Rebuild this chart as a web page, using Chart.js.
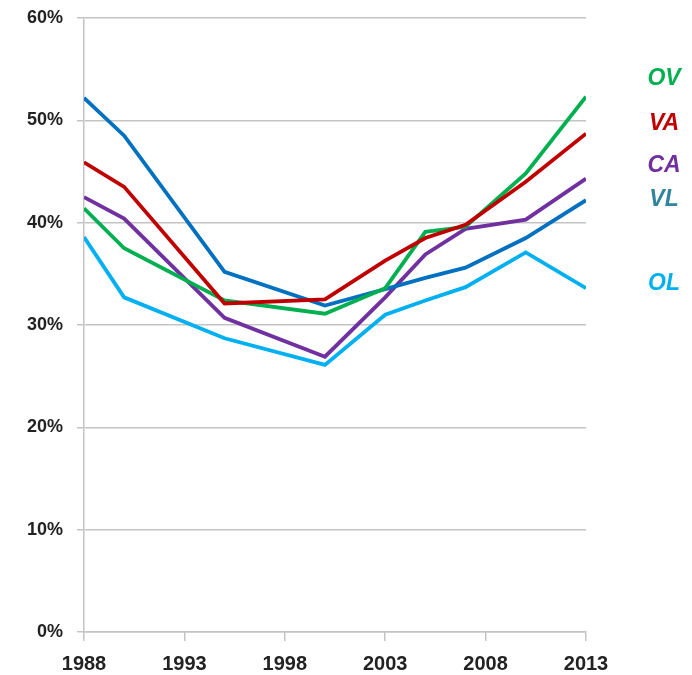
<!DOCTYPE html>
<html>
<head>
<meta charset="utf-8">
<script src="https://cdn.jsdelivr.net/npm/chart.js@4.4.1/dist/chart.umd.min.js"></script>
<style>
  html, body { margin: 0; padding: 0; background: #fff; }
  #wrap { width: 692px; height: 675px; }
</style>
</head>
<body>
<div id="wrap"><canvas id="lineChart"></canvas></div>
<script>
// years with a data point, and the labelled ticks on the x axis
const years = [1988, 1990, 1995, 2000, 2003, 2005, 2007, 2010, 2013];
const xTicks = [1988, 1993, 1998, 2003, 2008, 2013];
const yTicks = [0, 10, 20, 30, 40, 50, 60];

// shares in percent
const vaValues = [45.9, 43.5, 32.1, 32.5, 36.3, 38.5, 39.8, 44.0, 48.7];
const ovValues = [41.4, 37.5, 32.4, 31.1, 33.6, 39.1, 39.6, 44.8, 52.3];
const vlValues = [52.2, 48.5, 35.2, 31.9, 33.5, 34.6, 35.6, 38.5, 42.2];
const caValues = [42.5, 40.4, 30.7, 26.9, 32.7, 36.9, 39.4, 40.3, 44.3];
const olValues = [38.6, 32.7, 28.7, 26.1, 31.0, 32.4, 33.7, 37.1, 33.6];

// series names and where their names sit on the value axis (right margin)
const names = ['OV', 'VA', 'CA', 'VL', 'OL'];
const nameValues = [54.1, 49.7, 45.6, 42.2, 34.0];
const nameColors = ['#00B050', '#C00000', '#7030A0', '#31849B', '#00B0F0'];

const toPoints = vals => vals.map((v, i) => ({ x: years[i], y: v }));

const seriesLabels = {
  id: 'seriesLabels',
  afterDraw(chart) {
    const c = chart.ctx;
    const y = chart.scales.y;
    const x0 = chart.chartArea.right + 78;
    c.save();
    c.font = 'italic bold 23px "Liberation Sans", Arial, sans-serif';
    c.textAlign = 'center';
    c.textBaseline = 'middle';
    names.forEach((n, i) => {
      c.fillStyle = nameColors[i];
      c.fillText(n, x0, y.getPixelForValue(nameValues[i]));
    });
    c.restore();
  }
};

let ctx = document.getElementById('lineChart').getContext('2d');
let lineChart = new Chart(ctx, {
  type: 'line',
  data: {
    datasets: [
      { label: 'VA', data: toPoints(vaValues), borderColor: '#C00000' },
      { label: 'OV', data: toPoints(ovValues), borderColor: '#00B050' },
      { label: 'VL', data: toPoints(vlValues), borderColor: '#0070C0' },
      { label: 'CA', data: toPoints(caValues), borderColor: '#7030A0' },
      { label: 'OL', data: toPoints(olValues), borderColor: '#00B0F0' }
    ]
  },
  options: {
    responsive: true,
    maintainAspectRatio: false,
    animation: false,
    events: [],
    elements: {
      line: { borderWidth: 3.8, tension: 0, fill: false },
      point: { radius: 0 }
    },
    layout: { padding: { top: 18, right: 106, left: 0, bottom: 0 } },
    plugins: {
      legend: { display: false },
      tooltip: { enabled: false }
    },
    scales: {
      x: {
        type: 'linear',
        min: 1988,
        max: 2013,
        afterBuildTicks: s => { s.ticks = xTicks.map(v => ({ value: v })); },
        afterFit: s => { s.height = 43; },
        grid: { drawOnChartArea: false, drawTicks: true, tickLength: 9, color: '#c4c4c4', lineWidth: 1.5 },
        border: { color: '#c4c4c4', width: 1.5 },
        ticks: {
          padding: 11,
          maxRotation: 0,
          color: '#222',
          font: { family: '"Liberation Sans", Arial, sans-serif', size: 20, weight: 'bold' },
          callback: v => String(v)
        }
      },
      y: {
        min: 0,
        max: 60,
        afterBuildTicks: s => { s.ticks = yTicks.map(v => ({ value: v })); },
        afterFit: s => { s.width = 84; s.paddingTop = 0; s.paddingBottom = 0; },
        grid: { color: '#c4c4c4', lineWidth: 1.5, tickLength: 7 },
        border: { color: '#c4c4c4', width: 1.5 },
        ticks: {
          padding: 14,
          color: '#222',
          font: { family: '"Liberation Sans", Arial, sans-serif', size: 18, weight: 'bold' },
          callback: v => v + '%'
        }
      }
    }
  },
  plugins: [seriesLabels]
});
</script>
</body>
</html>
